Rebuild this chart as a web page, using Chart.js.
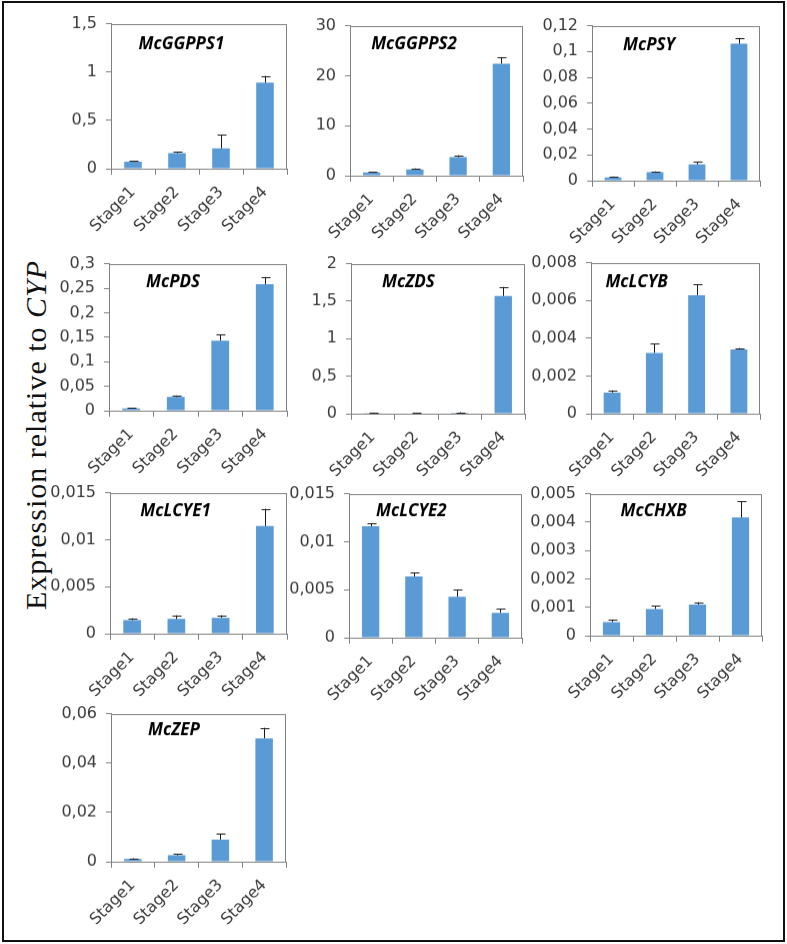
<!DOCTYPE html>
<html>
<head>
<meta charset="utf-8">
<script src="https://cdn.jsdelivr.net/npm/chart.js@4.4.1/dist/chart.umd.min.js"></script>
<style>
  body { margin: 0; background: #fff; }
  #figure { position: relative; width: 787px; height: 944px; background: #fff; overflow: hidden; }
  #frame { position: absolute; left: 2px; top: 1px; width: 779px; height: 937px; border: 2px solid #111; }
  #figure canvas { position: absolute; }
  #ylabel {
    position: absolute; left: 36px; top: 435px;
    transform: translate(-50%, -50%) rotate(-90deg);
    font-family: "Liberation Serif", "Times New Roman", serif; font-size: 30px;
    letter-spacing: 1px; white-space: nowrap; color: #111;
  }
</style>
</head>
<body>
<div id="figure">
  <div id="frame"></div>
  <div id="ylabel">Expression relative to <i>CYP</i></div>
</div>
<script>
// --------- Data ---------
const stages = ["Stage1", "Stage2", "Stage3", "Stage4"];
const genes = ["McGGPPS1", "McGGPPS2", "McPSY", "McPDS", "McZDS", "McLCYB", "McLCYE1", "McLCYE2", "McCHXB", "McZEP"];

const ggpps1 = [0.072, 0.16, 0.21, 0.89];
const ggpps1Err = [0.008, 0.015, 0.14, 0.07];
const ggpps2 = [0.66, 1.26, 3.7, 22.4];
const ggpps2Err = [0.14, 0.2, 0.4, 1.3];
const psy = [0.0026, 0.0067, 0.0126, 0.106];
const psyErr = [0.0007, 0.0005, 0.002, 0.0045];
const pds = [0.0048, 0.028, 0.143, 0.258];
const pdsErr = [0.0012, 0.003, 0.012, 0.015];
const zds = [0.005, 0.008, 0.012, 1.57];
const zdsErr = [0.003, 0.004, 0.008, 0.12];
const lcyb = [0.00112, 0.00322, 0.00628, 0.00341];
const lcybErr = [0.00012, 0.0005, 0.00058, 0.00007];
const lcye1 = [0.00143, 0.00157, 0.00168, 0.01146];
const lcye1Err = [0.00021, 0.00039, 0.00028, 0.00184];
const lcye2 = [0.0116, 0.00637, 0.00426, 0.0026];
const lcye2Err = [0.0003, 0.00043, 0.00074, 0.0004];
const chxb = [0.00048, 0.00094, 0.0011, 0.00416];
const chxbErr = [0.00008, 0.00012, 0.00008, 0.00058];
const zep = [0.0011, 0.0026, 0.009, 0.05];
const zepErr = [0.0003, 0.0006, 0.0024, 0.0043];

const means = [ggpps1, ggpps2, psy, pds, zds, lcyb, lcye1, lcye2, chxb, zep];
const errors = [ggpps1Err, ggpps2Err, psyErr, pdsErr, zdsErr, lcybErr, lcye1Err, lcye2Err, chxbErr, zepErr];
const yMax = [1.5, 30, 0.12, 0.3, 2, 0.008, 0.015, 0.015, 0.005, 0.06];
const yStep = [0.5, 10, 0.02, 0.05, 0.5, 0.002, 0.005, 0.005, 0.001, 0.02];

// --------- Layout (plot area boxes: left, top, right, bottom) ---------
const boxes = [
  [111, 24, 287, 169], [350, 26, 523, 176], [592, 26, 760, 181],
  [109, 264, 287, 411], [351, 264, 525, 414], [591, 263, 760, 414],
  [110, 493, 287, 634], [349, 494, 522, 638], [590, 494, 762, 636],
  [111, 714, 286, 862]
];
const titleFrac = [0.40, 0.37, 0.34, 0.36, 0.33, 0.27, 0.37, 0.36, 0.37, 0.36];
const titleDy = [21, 19, 20, 19, 19, 20, 19, 18, 18, 17];

const AXIS_W = 76, AXIS_H = 80, PAD_T = 12, PAD_R = 8;
const GRAY = "#808080";
const TEXT = "#3a3a3a";
const tickFont = { family: "DejaVu Sans", size: 16 };

function fmt(v) {
  return Number(v.toFixed(6)).toString().replace(".", ",");
}

// --------- Plugins ---------
const boxPlugin = {
  id: "plotBox",
  afterDraw(chart) {
    const a = chart.chartArea, c = chart.ctx;
    c.save();
    c.strokeStyle = GRAY;
    c.lineWidth = 1;
    c.strokeRect(Math.round(a.left) + 0.5, Math.round(a.top) + 0.5,
      Math.round(a.right - a.left) - 1, Math.round(a.bottom - a.top));
    c.restore();
  }
};

const errorPlugin = {
  id: "errorBars",
  afterDatasetsDraw(chart) {
    const c = chart.ctx, y = chart.scales.y;
    const ds = chart.data.datasets[0];
    chart.getDatasetMeta(0).data.forEach((bar, i) => {
      const top = y.getPixelForValue(ds.data[i] + ds.errors[i]);
      const x = Math.round(bar.x) + 0.5;
      c.save();
      c.strokeStyle = "#1a1a1a";
      c.lineWidth = 1;
      c.beginPath();
      c.moveTo(x, bar.y);
      c.lineTo(x, top);
      c.moveTo(x - 4, Math.round(top) + 0.5);
      c.lineTo(x + 5, Math.round(top) + 0.5);
      c.stroke();
      c.restore();
    });
  }
};

const titlePlugin = {
  id: "geneTitle",
  afterDraw(chart, args, opts) {
    const a = chart.chartArea, c = chart.ctx;
    c.save();
    c.font = "bold italic 17px 'Open Sans'";
    c.fillStyle = "#000";
    c.textAlign = "center";
    c.textBaseline = "middle";
    c.fillText(opts.text, a.left + opts.frac * (a.right - a.left), a.top + opts.dy);
    c.restore();
  }
};

function chartConfig(i) {
  return {
    type: "bar",
    data: {
      labels: stages,
      datasets: [{
        data: means[i],
        errors: errors[i],
        backgroundColor: "#5B9BD5",
        barPercentage: 0.4,
        categoryPercentage: 1.0
      }]
    },
    options: {
      responsive: false,
      animation: false,
      devicePixelRatio: 1,
      layout: { padding: { left: 0, top: PAD_T, right: PAD_R, bottom: 0 } },
      plugins: {
        legend: { display: false },
        tooltip: { enabled: false },
        geneTitle: { text: genes[i], frac: titleFrac[i], dy: titleDy[i] }
      },
      scales: {
        x: {
          grid: { display: true, drawOnChartArea: false, drawTicks: true, tickLength: 6, color: GRAY, offset: true },
          border: { color: GRAY },
          ticks: { maxRotation: 45, minRotation: 45, color: TEXT, font: tickFont, padding: 8 },
          afterFit(s) { s.height = AXIS_H; }
        },
        y: {
          min: 0,
          max: yMax[i],
          grid: { drawOnChartArea: false, drawTicks: true, tickLength: 5, color: GRAY },
          border: { color: GRAY },
          ticks: { stepSize: yStep[i], color: TEXT, font: tickFont, padding: 9, callback: v => fmt(v) },
          afterFit(s) { s.width = AXIS_W; }
        }
      }
    },
    plugins: [boxPlugin, errorPlugin, titlePlugin]
  };
}

function sizeCanvas(canvas, x, y, w, h) {
  canvas.width = w;
  canvas.height = h;
  canvas.style.left = x + "px";
  canvas.style.top = y + "px";
  canvas.style.width = w + "px";
  canvas.style.height = h + "px";
}

// --------- Build charts ---------
const figure = document.getElementById("figure");

genes.forEach((gene, i) => {
  const [l, t, r, b] = boxes[i];
  const canvas = document.createElement("canvas");
  figure.appendChild(canvas);

  // first pass: find how much room the axes take, then size the canvas so the plot box lands in place
  const w0 = (r - l) + AXIS_W + PAD_R;
  const h0 = (b - t) + PAD_T + AXIS_H;
  sizeCanvas(canvas, l - AXIS_W, t - PAD_T, w0, h0);
  let chart = new Chart(canvas, chartConfig(i));
  const ca = chart.chartArea;
  const offL = ca.left, offT = ca.top, offR = w0 - ca.right, offB = h0 - ca.bottom;
  chart.destroy();

  sizeCanvas(canvas, l - offL, t - offT, offL + (r - l) + offR, offT + (b - t) + offB);
  chart = new Chart(canvas, chartConfig(i));
});
</script>
</body>
</html>
